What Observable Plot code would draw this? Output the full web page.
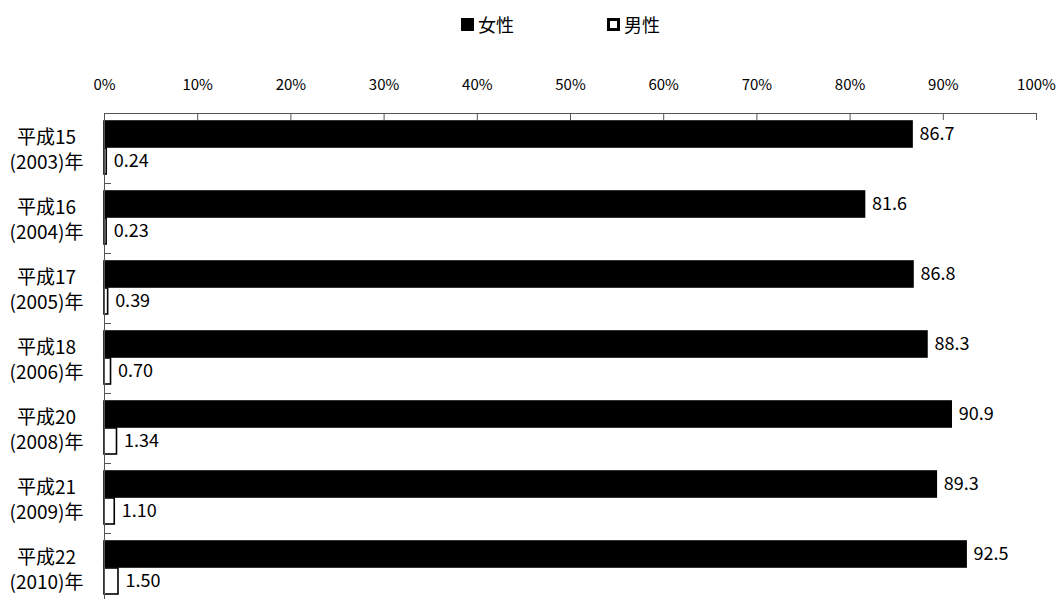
<!DOCTYPE html>
<html><head><meta charset="utf-8">
<script src="https://cdn.jsdelivr.net/npm/d3@7"></script>
<script src="https://cdn.jsdelivr.net/npm/@observablehq/plot@0.6"></script>
<style>
html,body{margin:0;padding:0;background:#fff;overflow:hidden;width:1059px;height:599px;}
body{font-family:"Noto Sans CJK JP","Noto Sans",sans-serif;color:#000;}
#legend{position:relative;height:40px;}
.item{position:absolute;top:14px;font-size:18px;line-height:20px;display:flex;align-items:center;white-space:nowrap;}
.sw{display:inline-block;width:13px;height:13px;margin-right:4px;box-sizing:border-box;border:3px solid #000;}
</style></head><body>
<div id="legend"></div>
<div id="chart"></div>
<script>
// ---- data ----
const eras = ["平成15","平成16","平成17","平成18","平成20","平成21","平成22"];
const years = ["2003","2004","2005","2006","2008","2009","2010"];
const series = ["女性","男性"];
const female = [86.7,81.6,86.8,88.3,90.9,89.3,92.5];
const femaleLabels = ["86.7","81.6","86.8","88.3","90.9","89.3","92.5"];
const male = [0.24,0.23,0.39,0.70,1.34,1.10,1.50];
const maleLabels = ["0.24","0.23","0.39","0.70","1.34","1.10","1.50"];
const xTicks = [0,10,20,30,40,50,60,70,80,90,100];
const seriesColors = ["#000000","#ffffff"];

const rows = [];
years.forEach((y,i)=>{
  rows.push({year:y, sex:series[0], value:female[i], label:femaleLabels[i]});
  rows.push({year:y, sex:series[1], value:male[i], label:maleLabels[i]});
});
const eraOf = Object.fromEntries(years.map((y,i)=>[y, eras[i]]));

// legend
const legend = document.getElementById("legend");
const legendLeft = [461, 607];
series.forEach((s,i)=>{
  const it = document.createElement("div");
  it.className = "item";
  it.style.left = legendLeft[i] + "px";
  const sw = document.createElement("span");
  sw.className = "sw";
  sw.style.background = seriesColors[i];
  it.appendChild(sw);
  it.appendChild(document.createTextNode(s));
  legend.appendChild(it);
});

const font = '"Noto Sans CJK JP","Noto Sans",sans-serif';
const chart = Plot.plot({
  width: 1059,
  height: 565,
  marginLeft: 104,
  marginRight: 23,
  marginTop: 71,
  marginBottom: 0,
  style: {fontFamily: font, fontSize: "15px", color: "#000", background: "#fff", overflow: "visible"},
  x: {domain: [0, 100]},
  fy: {domain: years, padding: 0},
  y: {domain: series, paddingInner: 0.036, paddingOuter: 0.3, axis: null},
  color: {domain: series, range: seriesColors},
  marks: [
    // tick labels above the axis line
    Plot.axisX({anchor: "top", ticks: xTicks, tickFormat: d => d + "%", tickSize: 0, tickPadding: 24, label: null, fontSize: 15}),
    // inward tick marks
    Plot.axisX({anchor: "top", ticks: xTicks, tickFormat: () => "", tickSize: -6, label: null, stroke: "#555"}),
    // top axis line across the whole plot
    Plot.frame({anchor: "top", stroke: "#555", facet: "super"}),
    Plot.axisFy({anchor: "left", tickSize: 0, tickPadding: 58, textAnchor: "middle", lineHeight: 1.3, label: null, fontSize: 19,
      tickFormat: d => eraOf[d] + "\n(" + d + ")年"}),
    // short inward ticks at the category boundaries
    Plot.frame({anchor: "top", stroke: "#555", insetRight: 1059 - 104 - 23 - 6}),
    Plot.barX(rows, {x: "value", y: "sex", fy: "year", fill: "sex", stroke: "#000", strokeWidth: 1.6}),
    Plot.ruleX([0], {stroke: "#555"}),
    Plot.text(rows, {x: "value", y: "sex", fy: "year", text: "label", textAnchor: "start", dx: 7, fontSize: 18, fill: "#000"})
  ]
});
document.getElementById("chart").appendChild(chart);
</script>
</body></html>
